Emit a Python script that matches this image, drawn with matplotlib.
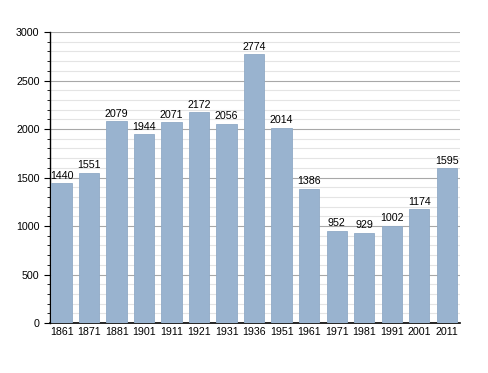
import matplotlib
matplotlib.use("Agg")
from matplotlib import pyplot as plt
from matplotlib.ticker import MultipleLocator

plt.rcParams['font.family'] = ['Liberation Sans', 'DejaVu Sans']

years = ["1861", "1871", "1881", "1901", "1911", "1921", "1931", "1936",
         "1951", "1961", "1971", "1981", "1991", "2001", "2011"]
population = [1440, 1551, 2079, 1944, 2071, 2172, 2056, 2774,
              2014, 1386, 952, 929, 1002, 1174, 1595]

fig = plt.figure(figsize=(4.88, 3.73), dpi=100)
ax = fig.add_axes([0.1025, 0.134, 0.840, 0.780])

x = list(range(len(years)))
ax.bar(x, population, width=0.74, color="#99b3cf", edgecolor="#90aac6",
       linewidth=0.6, zorder=3)
for i, v in enumerate(population):
    ax.text(i, v + 25, str(v), ha="center", va="bottom", fontsize=7.7, zorder=4)

ax.set_xlim(-0.42, 14.48)
ax.set_ylim(0, 3000)
ax.set_xticks(x)
ax.set_xticklabels(years, fontsize=7.7)
ax.yaxis.set_major_locator(MultipleLocator(500))
ax.yaxis.set_minor_locator(MultipleLocator(100))
ax.tick_params(axis="y", which="major", labelsize=7.7, length=4, width=0.8)
ax.tick_params(axis="y", which="minor", length=2.5, width=0.6)
ax.tick_params(axis="x", length=0, pad=3)
ax.grid(axis="y", which="major", color="#a8a8a8", linewidth=0.8, zorder=1)
ax.grid(axis="y", which="minor", color="#e4e4e4", linewidth=0.8, zorder=1)
for s in ["top", "right"]:
    ax.spines[s].set_visible(False)
ax.spines["left"].set_linewidth(1.0)
ax.spines["bottom"].set_linewidth(1.2)

fig.savefig("out.png", dpi=100)
